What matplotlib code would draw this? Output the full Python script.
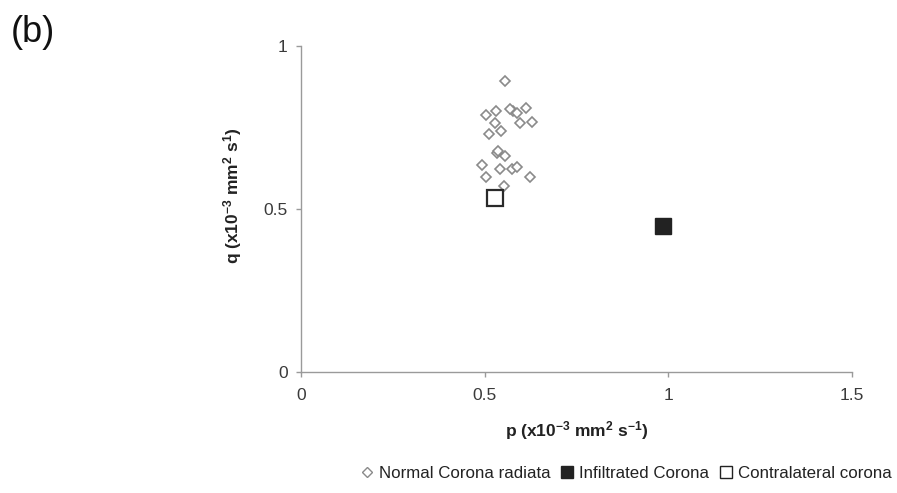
import matplotlib
matplotlib.use("Agg")
import matplotlib.pyplot as plt
from matplotlib.lines import Line2D

plt.rcParams['font.family'] = ['Liberation Sans', 'DejaVu Sans']
plt.rcParams['mathtext.default'] = 'regular'

# Data
normal_p = [0.555, 0.503, 0.530, 0.578, 0.589, 0.613, 0.528, 0.596, 0.628, 0.512,
            0.545, 0.534, 0.536, 0.555, 0.494, 0.542, 0.574, 0.589, 0.503, 0.623,
            0.553, 0.570]
normal_q = [0.893, 0.787, 0.801, 0.801, 0.794, 0.810, 0.764, 0.764, 0.767, 0.729,
            0.739, 0.672, 0.677, 0.662, 0.634, 0.621, 0.621, 0.627, 0.598, 0.598,
            0.570, 0.805]
infiltrated_p = [0.985]
infiltrated_q = [0.448]
contralateral_p = [0.527]
contralateral_q = [0.533]

x_ticks = [0, 0.5, 1, 1.5]
x_ticklabels = ['0', '0.5', '1', '1.5']
y_ticks = [0, 0.5, 1]
y_ticklabels = ['0', '0.5', '1']

fig = plt.figure(figsize=(8.97, 4.93), dpi=100)
ax = fig.add_axes([301/897, 1-371.7/493, (852-301)/897, (371.7-45.7)/493])

ax.plot(normal_p, normal_q, linestyle='none', marker='D', markersize=5.0,
        markerfacecolor='white', markeredgecolor='#8a8a8a', markeredgewidth=1.2,
        label='Normal Corona radiata')
ax.plot(infiltrated_p, infiltrated_q, linestyle='none', marker='s', markersize=11.5,
        markerfacecolor='#222222', markeredgecolor='#222222', markeredgewidth=1,
        label='Infiltrated Corona')
ax.plot(contralateral_p, contralateral_q, linestyle='none', marker='s', markersize=11,
        markerfacecolor='white', markeredgecolor='#2a2a2a', markeredgewidth=1.6,
        label='Contralateral corona')

ax.set_xlim(0, 1.5)
ax.set_ylim(0, 1)
ax.set_xticks(x_ticks)
ax.set_xticklabels(x_ticklabels)
ax.set_yticks(y_ticks)
ax.set_yticklabels(y_ticklabels)

for s in ['top', 'right']:
    ax.spines[s].set_visible(False)
for s in ['left', 'bottom']:
    ax.spines[s].set_color('#9a9a9a')
    ax.spines[s].set_linewidth(1.0)

ax.tick_params(axis='both', colors='#9a9a9a', labelcolor='#3a3a3a', length=3.5,
               width=1.0, labelsize=12.5, direction='out')
ax.tick_params(axis='x', pad=8)
ax.tick_params(axis='y', pad=6)

ax.set_xlabel('p (x10$^{-3}$ mm$^{2}$ s$^{-1}$)', fontsize=12.5, fontweight='bold',
              color='#222222', labelpad=12)
ax.set_ylabel('q (x10$^{-3}$ mm$^{2}$ s$^{1}$)', fontsize=12.5, fontweight='bold',
              color='#222222')
ax.yaxis.set_label_coords(-0.103, 0.54)

fig.text(0.012, 1-33/493, '(b)', fontsize=26, va='center', ha='left', color='#111111')

handles = [
    Line2D([], [], linestyle='none', marker='D', markersize=5, markerfacecolor='white',
           markeredgecolor='#8a8a8a', markeredgewidth=1.0),
    Line2D([], [], linestyle='none', marker='s', markersize=8.5, markerfacecolor='#222222',
           markeredgecolor='#222222'),
    Line2D([], [], linestyle='none', marker='s', markersize=8.5, markerfacecolor='white',
           markeredgecolor='#222222', markeredgewidth=1.0),
]
labels = ['Normal Corona radiata', 'Infiltrated Corona', 'Contralateral corona']
fig.legend(handles, labels, loc='center', bbox_to_anchor=(626/897, 1-473/493), ncol=3,
           frameon=False, fontsize=12.2, handlelength=0.8, handletextpad=0.3,
           columnspacing=0.6, labelcolor='#222222')

fig.savefig('out.png', dpi=100)
